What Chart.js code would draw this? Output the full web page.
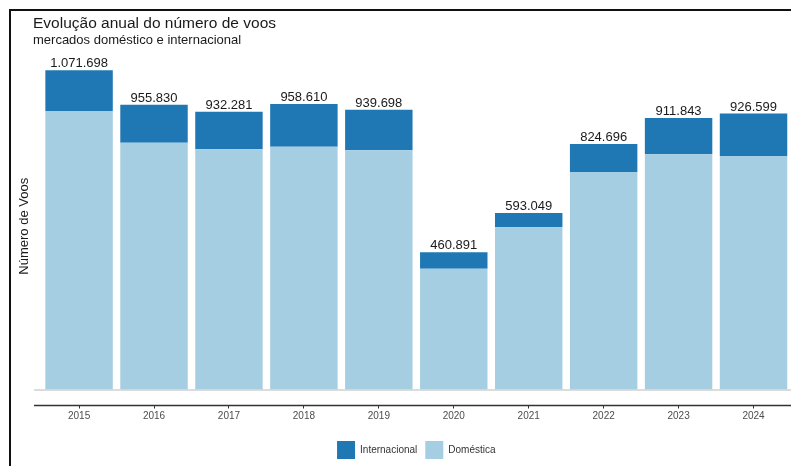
<!DOCTYPE html>
<html>
<head>
  <meta charset="UTF-8">
  <title>Evolução anual do número de voos</title>
  <script src="https://cdn.jsdelivr.net/npm/chart.js"></script>
  <style>
    html, body { margin: 0; padding: 0; background: #fff; }
    #wrap { width: 791px; height: 466px; }
  </style>
</head>
<body>
  <div id="wrap"><canvas id="voosChart" width="791" height="466"></canvas></div>

  <script>
    // anos e número de voos por mercado
    const anos = ['2015', '2016', '2017', '2018', '2019', '2020', '2021', '2022', '2023', '2024'];
    const domestica = [935100, 828600, 806500, 815200, 803100, 405600, 544600, 730300, 789700, 784000];
    const internacional = [136598, 127230, 125781, 143410, 136598, 55291, 48449, 94396, 122143, 142599];
    const totais = [1071698, 955830, 932281, 958610, 939698, 460891, 593049, 824696, 911843, 926599];

    const corDomestica = '#a6cee3';
    const corInternacional = '#1f78b4';
    const fonte = '"Liberation Sans", Arial, sans-serif';

    function formatarMilhar(v) {
      return String(v).replace(/\B(?=(\d{3})+(?!\d))/g, '.');
    }

    // moldura, títulos, linha do zero, eixo x e rótulos dos totais
    const extras = {
      id: 'extras',
      beforeDraw(chart) {
        const c = chart.ctx;
        c.save();
        c.fillStyle = '#fff';
        c.fillRect(0, 0, chart.width, chart.height);
        c.strokeStyle = '#111';
        c.lineWidth = 2;
        c.beginPath();
        c.moveTo(10, chart.height);
        c.lineTo(10, 10);
        c.lineTo(chart.width, 10);
        c.stroke();

        c.fillStyle = '#1a1a1a';
        c.textBaseline = 'alphabetic';
        c.textAlign = 'left';
        c.font = '15.5px ' + fonte;
        c.fillText('Evolução anual do número de voos', 33, 28);
        c.font = '13px ' + fonte;
        c.fillText('mercados doméstico e internacional', 33, 44);
        c.restore();
      },
      afterDatasetsDraw(chart) {
        const c = chart.ctx;
        const x = chart.scales.x;
        const y = chart.scales.y;
        const area = chart.chartArea;
        c.save();
        // linha do zero
        c.strokeStyle = '#d0d0d0';
        c.lineWidth = 1.5;
        c.beginPath();
        c.moveTo(34, y.getPixelForValue(0) + 0.5);
        c.lineTo(chart.width, y.getPixelForValue(0) + 0.5);
        c.stroke();
        // eixo x
        c.strokeStyle = '#333';
        c.lineWidth = 1.5;
        c.beginPath();
        c.moveTo(34, area.bottom);
        c.lineTo(chart.width, area.bottom);
        c.stroke();
        // totais acima das barras
        c.fillStyle = '#1a1a1a';
        c.font = '13px ' + fonte;
        c.textAlign = 'center';
        c.textBaseline = 'alphabetic';
        totais.forEach((t, i) => {
          c.fillText(formatarMilhar(t), x.getPixelForValue(i), y.getPixelForValue(t) - 3);
        });
        c.restore();
      }
    };

    const ctx = document.getElementById('voosChart').getContext('2d');
    new Chart(ctx, {
      type: 'bar',
      data: {
        labels: anos,
        datasets: [
          {
            label: 'Doméstica',
            data: domestica,
            backgroundColor: corDomestica,
            borderWidth: 0,
            barPercentage: 0.9,
            categoryPercentage: 1
          },
          {
            label: 'Internacional',
            data: internacional,
            backgroundColor: corInternacional,
            borderWidth: 0,
            barPercentage: 0.9,
            categoryPercentage: 1
          }
        ]
      },
      options: {
        responsive: false,
        animation: false,
        events: [],
        layout: { padding: { top: 47, left: 13, right: 0, bottom: -3 } },
        plugins: {
          title: { display: false },
          tooltip: { enabled: false },
          legend: {
            position: 'bottom',
            fullSize: false,
            reverse: true,
            labels: {
              boxWidth: 18,
              boxHeight: 18,
              padding: 8,
              color: '#333',
              font: { family: fonte, size: 10 }
            }
          }
        },
        scales: {
          x: {
            stacked: true,
            offset: true,
            grid: {
              display: true,
              offset: false,
              drawOnChartArea: false,
              drawTicks: true,
              tickLength: 3,
              color: '#333'
            },
            border: { display: false },
            ticks: {
              color: '#4d4d4d',
              padding: 2,
              font: { family: fonte, size: 10 }
            },
            // espaço extra entre o eixo e a legenda
            afterFit(scale) {
              scale.height += 8.5;
            }
          },
          y: {
            stacked: true,
            min: -53700,
            max: 1150000,
            grid: { display: false, drawTicks: false },
            border: { display: false },
            ticks: { display: false },
            title: {
              display: true,
              text: 'Número de Voos',
              color: '#1a1a1a',
              font: { family: fonte, size: 13 },
              padding: { top: 4, bottom: 9 }
            }
          }
        }
      },
      plugins: [extras]
    });
  </script>
</body>
</html>
